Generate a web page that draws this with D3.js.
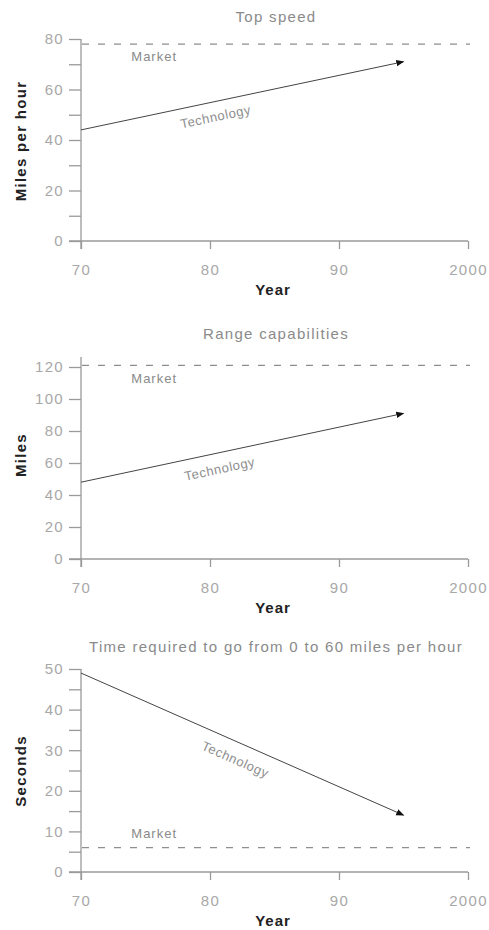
<!DOCTYPE html>
<html><head><meta charset="utf-8">
<script src="https://cdn.jsdelivr.net/npm/d3@7"></script>
<style>
html,body{margin:0;padding:0;background:#fff;}
svg{display:block;font-family:"Liberation Sans",Arial,Helvetica,sans-serif;}
</style></head>
<body><svg id="c" width="489" height="930"></svg>
<script>
// ---- data ----
const xYears = [1970, 1980, 1990, 2000];
const xTickLabels = ["70", "80", "90", "2000"];
const panelTitles = ["Top speed", "Range capabilities", "Time required to go from 0 to 60 miles per hour"];
const yAxisLabels = ["Miles per hour", "Miles", "Seconds"];
const yMaxValues = [80, 120, 50];
const yMajorTicks = [[0, 20, 40, 60, 80], [0, 20, 40, 60, 80, 100, 120], [0, 10, 20, 30, 40, 50]];
const yMinorTicks = [[10, 30, 50, 70], [], [5, 15, 25, 35, 45]];
const marketValues = [78, 121, 6];
const techYears = [1970, 1995];
const techStart = [44, 48, 49];
const techEnd = [71, 91, 14];
const marketLabel = "Market";
const techLabel = "Technology";
const xAxisTitle = "Year";

// ---- layout ----
const layout = [
  {axisY: 241, topY: 39, titleY: 22, yLabelY: 141, ext: 0, marketDy: 17, labYear: 1980.2, labOff: 16},
  {axisY: 559, topY: 367, titleY: 339, yLabelY: 455, ext: 10, marketDy: 18, labYear: 1980.5, labOff: 17},
  {axisY: 872, topY: 669, titleY: 652, yLabelY: 771, ext: 0, marketDy: -10, labYear: 1982.5, labOff: 18}
];
const x0 = 81, x1 = 468;
const svg = d3.select("#c");
const defs = svg.append("defs");
defs.append("marker").attr("id", "ah").attr("viewBox", "0 0 10 10")
  .attr("refX", 9).attr("refY", 5).attr("markerWidth", 8).attr("markerHeight", 8)
  .attr("markerUnits", "userSpaceOnUse").attr("orient", "auto")
  .append("path").attr("d", "M0,1 L10,5 L0,9 Z").attr("fill", "#111");

const x = d3.scaleLinear().domain([1970, 2000]).range([x0, x1]);
const axisCol = "#9a9a9a", tickTextCol = "#a8a8a8";
const FF = "Liberation Sans, Arial, sans-serif";

layout.forEach((L, i) => {
  const y = d3.scaleLinear().domain([0, yMaxValues[i]]).range([L.axisY, L.topY]);
  const g = svg.append("g");

  // title
  g.append("text").attr("x", 276).attr("y", L.titleY).attr("text-anchor", "middle")
    .attr("font-size", 15).attr("letter-spacing", 1.3).attr("fill", "#8a8a8a").text(panelTitles[i]);

  // y axis
  const yAxis = d3.axisLeft(y).tickValues(yMajorTicks[i]).tickSize(12).tickPadding(5)
    .tickFormat(d3.format("d"));
  const ya = g.append("g").attr("transform", `translate(${x0},0)`).call(yAxis);
  ya.select(".domain").remove();
  ya.selectAll(".tick line").attr("stroke", axisCol).attr("stroke-width", 1.3);
  ya.selectAll(".tick text").attr("fill", tickTextCol).attr("font-size", 15)
    .attr("letter-spacing", 1.3).attr("font-family", FF);
  const yMinor = d3.axisLeft(y).tickValues(yMinorTicks[i]).tickSize(12).tickFormat("");
  const ym = g.append("g").attr("transform", `translate(${x0},0)`).call(yMinor);
  ym.select(".domain").remove();
  ym.selectAll(".tick line").attr("stroke", axisCol).attr("stroke-width", 1.3);

  g.append("line").attr("x1", x0).attr("x2", x0)
    .attr("y1", L.topY - L.ext).attr("y2", L.axisY + 8)
    .attr("stroke", axisCol).attr("stroke-width", 1.3);

  // x axis
  const xAxis = d3.axisBottom(x).tickValues(xYears).tickSize(8).tickPadding(15)
    .tickFormat((d, k) => xTickLabels[k]);
  const xa = g.append("g").attr("transform", `translate(0,${L.axisY})`).call(xAxis);
  xa.select(".domain").remove();
  xa.selectAll(".tick line").attr("stroke", axisCol).attr("stroke-width", 1.3);
  xa.selectAll(".tick text").attr("fill", tickTextCol).attr("font-size", 15)
    .attr("letter-spacing", 1.3).attr("font-family", FF);
  g.append("line").attr("x1", x0 - 12).attr("x2", x1)
    .attr("y1", L.axisY).attr("y2", L.axisY)
    .attr("stroke", axisCol).attr("stroke-width", 1.3);

  // axis titles
  g.append("text").attr("x", 273).attr("y", L.axisY + 54).attr("text-anchor", "middle")
    .attr("font-size", 15).attr("letter-spacing", 1).attr("font-weight", "bold")
    .attr("fill", "#222").text(xAxisTitle);
  g.append("text").attr("transform", `translate(26,${L.yLabelY}) rotate(-90)`)
    .attr("text-anchor", "middle").attr("font-size", 15).attr("letter-spacing", 1.3)
    .attr("font-weight", "bold").attr("fill", "#222").text(yAxisLabels[i]);

  // market
  const my = y(marketValues[i]);
  g.append("line").attr("x1", x0 + 1).attr("x2", x1 + 2).attr("y1", my).attr("y2", my)
    .attr("stroke", "#8e8e8e").attr("stroke-width", 1.2).attr("stroke-dasharray", "7,9");
  g.append("text").attr("x", x(1973.9)).attr("y", my + L.marketDy)
    .attr("font-size", 13).attr("letter-spacing", 1).attr("fill", "#8a8a8a").text(marketLabel);

  // technology
  const p0 = [x(techYears[0]), y(techStart[i])], p1 = [x(techYears[1]), y(techEnd[i])];
  g.append("line").attr("x1", p0[0]).attr("y1", p0[1]).attr("x2", p1[0]).attr("y2", p1[1])
    .attr("stroke", "#444").attr("stroke-width", 1).attr("marker-end", "url(#ah)");
  const ang = Math.atan2(p1[1] - p0[1], p1[0] - p0[0]);
  const t = (x(L.labYear) - p0[0]) / (p1[0] - p0[0]);
  const cx = p0[0] + t * (p1[0] - p0[0]), cy = p0[1] + t * (p1[1] - p0[1]);
  const lx = cx - Math.sin(ang) * L.labOff, ly = cy + Math.cos(ang) * L.labOff;
  g.append("text").attr("transform", `translate(${lx},${ly}) rotate(${ang * 180 / Math.PI})`)
    .attr("text-anchor", "middle").attr("dominant-baseline", "middle")
    .attr("font-size", 13).attr("letter-spacing", 0.6).attr("fill", "#8e8e8e").text(techLabel);
});
</script></body></html>
